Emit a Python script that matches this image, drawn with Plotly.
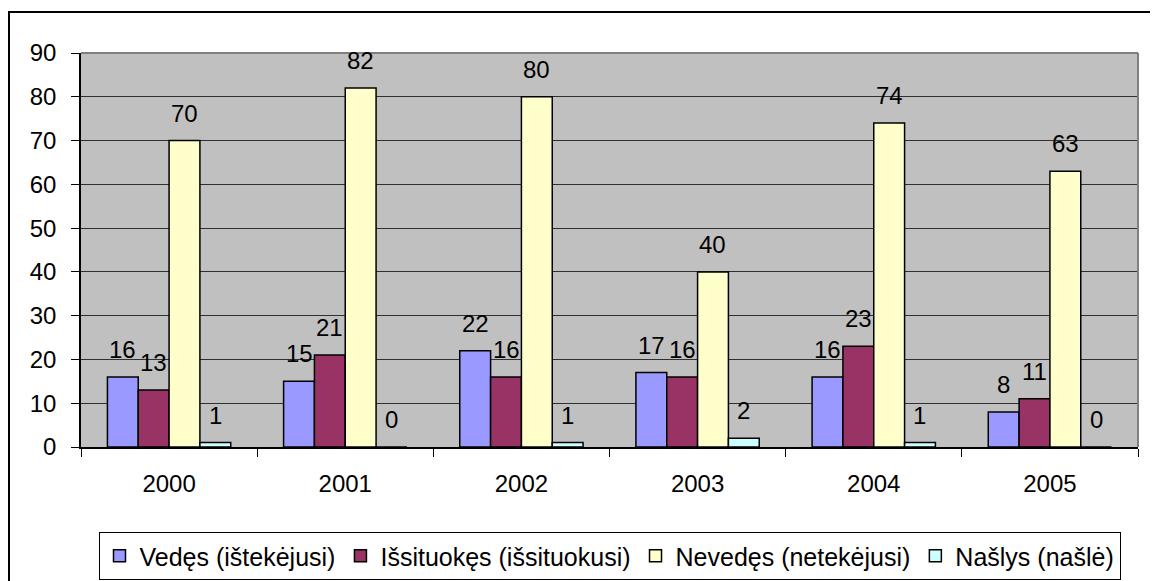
import plotly.graph_objects as go

years = ["2000", "2001", "2002", "2003", "2004", "2005"]
series = ["Vedęs (ištekėjusi)", "Išsituokęs (išsituokusi)", "Nevedęs (netekėjusi)", "Našlys (našlė)"]
vedes = [16, 15, 22, 17, 16, 8]
isituokes = [13, 21, 16, 16, 23, 11]
nevedes = [70, 82, 80, 40, 74, 63]
naslys = [1, 0, 1, 2, 1, 0]
colors = ["#9999FF", "#993366", "#FFFFCC", "#CCFFFF"]

# page body has an 8px margin, so the figure is 8px smaller than the window
W, H = 1150, 573
ml, mr, mt, mb = 73, 20, 45, 134
bargap = 0.3
font = "Liberation Sans, Arial, sans-serif"
fs = 24

fig = go.Figure()
values = [vedes, isituokes, nevedes, naslys]
for name, vals, c in zip(series, values, colors):
    fig.add_trace(go.Bar(x=years, y=vals, name=name, marker_color=c,
                         marker_line_color="black", marker_line_width=1.5))

# value labels above bars, like excel (x as category index)
pw = W - ml - mr
ph = H - mt - mb
bw = pw / len(years) * (1 - bargap) / len(series)
for i, vals in enumerate(values):
    for j, v in enumerate(vals):
        fig.add_annotation(x=j, y=v, text=str(v), showarrow=False, yanchor="bottom",
                           xshift=(i - 1.5) * bw, yshift=12,
                           font=dict(family=font, size=fs, color="black"))

# outer chart frame + grey plot-area border (top/right)
fig.add_shape(type="rect", xref="paper", yref="paper",
              x0=(1 - ml) / pw, x1=(1146 - ml) / pw, y0=-(600 - mt - ph) / ph, y1=(ph + mt - 4) / ph,
              line=dict(color="black", width=2), layer="above")
fig.add_shape(type="line", xref="paper", yref="paper", x0=0, x1=1, y0=1, y1=1,
              line=dict(color="#808080", width=2))
fig.add_shape(type="line", xref="paper", yref="paper", x0=1, x1=1, y0=0, y1=1,
              line=dict(color="#808080", width=2))

fig.update_layout(
    width=W, height=H, margin=dict(l=ml, r=mr, t=mt, b=mb, autoexpand=False),
    barmode="group", bargap=bargap, bargroupgap=0,
    plot_bgcolor="#C0C0C0", paper_bgcolor="white",
    font=dict(family=font, size=fs, color="black"),
    legend=dict(orientation="h", x=0.5, xanchor="center", yref="container", y=1 - 524 / H,
                yanchor="top", bordercolor="black", borderwidth=1, bgcolor="white",
                font=dict(size=25), itemwidth=30, tracegroupgap=0),
    xaxis=dict(type="category", showline=True, linecolor="black", linewidth=1.5, ticks="outside",
               tickson="boundaries", ticklen=8, tickcolor="black", ticklabelstandoff=14),
    yaxis=dict(range=[0, 90], dtick=10, showline=True, linecolor="black", linewidth=1.5,
               ticks="outside", ticklen=8, tickcolor="black", gridcolor="#303030",
               gridwidth=1, zeroline=False, ticklabelstandoff=10),
)

fig.write_html("out.html")
